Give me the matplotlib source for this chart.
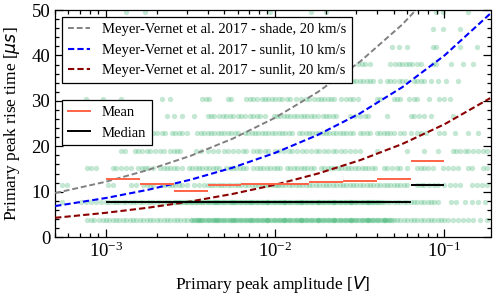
import numpy as np
import matplotlib
matplotlib.use('Agg')
import matplotlib.pyplot as plt
from matplotlib.ticker import MultipleLocator, LogLocator
from matplotlib.lines import Line2D

plt.rcParams['font.family'] = ['Liberation Serif', 'DejaVu Serif']
plt.rcParams['font.size'] = 12.5
plt.rcParams['mathtext.fontset'] = 'dejavusans'

# ---------------- data ----------------
# discrete rise-time levels [us]
row_times = [3.81, 7.63, 11.44, 15.26, 19.07, 22.89, 26.70, 30.52, 34.33, 38.15, 41.96, 45.78, 49.59]

# log10 of primary peak amplitude [V] for the events at each rise-time level
row1 = [-3.11, -3.09, -3.07, -3.04, -3.02, -3.00, -2.98, -2.96, -2.94, -2.92, -2.90, -2.88, -2.86, -2.84,
        -2.82, -2.80, -2.78, -2.76, -2.74, -2.72, -2.70, -2.68, -2.66, -2.64, -2.62, -2.60, -2.58, -2.56,
        -2.54, -2.52, -2.50, -2.49, -2.48, -2.47, -2.46, -2.45, -2.44, -2.43, -2.42, -2.41, -2.40, -2.39,
        -2.38, -2.37, -2.36, -2.35, -2.34, -2.33, -2.32, -2.31, -2.30, -2.29, -2.28, -2.27, -2.26, -2.25,
        -2.24, -2.23, -2.22, -2.21, -2.20, -2.19, -2.18, -2.17, -2.16, -2.15, -2.14, -2.13, -2.12, -2.11,
        -2.10, -2.09, -2.08, -2.07, -2.06, -2.05, -2.04, -2.03, -2.02, -2.01, -2.00, -1.99, -1.98, -1.97,
        -1.96, -1.95, -1.94, -1.93, -1.92, -1.91, -1.90, -1.89, -1.88, -1.87, -1.86, -1.85, -1.84, -1.83,
        -1.82, -1.81, -1.80, -1.79, -1.78, -1.77, -1.76, -1.75, -1.74, -1.73, -1.72, -1.71, -1.70, -1.69,
        -1.68, -1.67, -1.66, -1.65, -1.64, -1.63, -1.62, -1.61, -1.60, -1.59, -1.58, -1.57, -1.56, -1.55,
        -1.54, -1.53, -1.52, -1.51, -1.50, -1.49, -1.48, -1.47, -1.46, -1.45, -1.44, -1.43, -1.42, -1.41,
        -1.40, -1.39, -1.38, -1.37, -1.36, -1.35, -1.34, -1.33, -1.32, -1.31, -1.30, -1.28, -1.26, -1.24,
        -1.22, -1.20, -1.18, -1.16, -1.14, -1.12, -1.10, -1.08, -1.06, -1.04, -1.02, -1.00, -0.98, -0.95,
        -0.92, -0.89, -0.86, -0.83, -0.79, -0.75,
        -2.45, -2.35, -2.25, -2.15, -2.05, -1.95, -1.85, -1.75, -1.65, -1.55, -1.45, -1.35]
row2 = [-3.26, -3.15, -3.12, -3.09, -3.06, -3.03, -3.00, -2.98, -2.96, -2.94, -2.92, -2.90, -2.88, -2.86,
        -2.84, -2.82, -2.80, -2.78, -2.76, -2.74, -2.72, -2.70, -2.68, -2.66, -2.64, -2.62, -2.60, -2.59,
        -2.58, -2.57, -2.56, -2.55, -2.54, -2.53, -2.52, -2.51, -2.50, -2.49, -2.48, -2.47, -2.46, -2.45,
        -2.44, -2.43, -2.42, -2.41, -2.40, -2.39, -2.38, -2.37, -2.36, -2.35, -2.34, -2.33, -2.32, -2.31,
        -2.30, -2.29, -2.28, -2.27, -2.26, -2.25, -2.24, -2.23, -2.22, -2.21, -2.20, -2.19, -2.18, -2.17,
        -2.16, -2.15, -2.14, -2.13, -2.12, -2.11, -2.10, -2.09, -2.08, -2.07, -2.06, -2.05, -2.04, -2.03,
        -2.02, -2.01, -2.00, -1.99, -1.98, -1.97, -1.96, -1.95, -1.94, -1.93, -1.92, -1.91, -1.90, -1.89,
        -1.88, -1.87, -1.86, -1.85, -1.84, -1.83, -1.82, -1.81, -1.80, -1.79, -1.78, -1.77, -1.76, -1.75,
        -1.74, -1.73, -1.72, -1.71, -1.70, -1.69, -1.68, -1.67, -1.66, -1.65, -1.64, -1.63, -1.62, -1.61,
        -1.60, -1.59, -1.58, -1.57, -1.56, -1.55, -1.54, -1.53, -1.52, -1.51, -1.50, -1.49, -1.48, -1.47,
        -1.46, -1.45, -1.44, -1.43, -1.42, -1.41, -1.40, -1.39, -1.38, -1.37, -1.36, -1.34, -1.32, -1.30,
        -1.28, -1.26, -1.24, -1.22, -1.20, -1.18, -1.16, -1.14, -1.12, -1.10, -1.08, -1.06, -1.04, -0.96,
        -0.93, -0.88, -0.84, -0.80, -0.76,
        -2.35, -2.25, -2.15, -2.05, -1.95, -1.85, -1.75, -1.65, -1.55, -1.45]
row3 = [-3.26, -3.23, -2.99, -2.96, -2.85, -2.82, -2.78, -2.76, -2.74, -2.72, -2.67, -2.65, -2.63, -2.61,
        -2.59, -2.57, -2.55, -2.52, -2.48, -2.45, -2.42, -2.40, -2.38, -2.36, -2.34, -2.32, -2.30, -2.28,
        -2.26, -2.24, -2.22, -2.20, -2.18, -2.16, -2.14, -2.12, -2.10, -2.08, -2.06, -2.04, -2.02, -2.00,
        -1.99, -1.98, -1.96, -1.94, -1.92, -1.90, -1.88, -1.86, -1.84, -1.82, -1.80, -1.78, -1.76, -1.74,
        -1.72, -1.70, -1.68, -1.66, -1.64, -1.62, -1.60, -1.58, -1.56, -1.54, -1.52, -1.50, -1.48, -1.46,
        -1.44, -1.42, -1.40, -1.38, -1.36, -1.34, -1.32, -1.30, -1.28, -1.26, -1.24, -1.22, -1.16, -1.14,
        -1.12, -1.09, -1.06, -1.04, -1.00, -0.97, -0.94, -0.91, -0.84, -0.81, -0.78, -0.75]
row4 = [-3.11, -3.09, -3.06, -2.96, -2.94, -2.91, -2.88, -2.85, -2.81, -2.79, -2.77, -2.75, -2.72, -2.68,
        -2.66, -2.64, -2.62, -2.60, -2.58, -2.55, -2.51, -2.49, -2.47, -2.45, -2.43, -2.41, -2.39, -2.37,
        -2.35, -2.33, -2.29, -2.27, -2.25, -2.23, -2.21, -2.19, -2.17, -2.13, -2.11, -2.09, -2.07, -2.05,
        -2.03, -2.01, -1.99, -1.97, -1.93, -1.91, -1.89, -1.87, -1.85, -1.83, -1.81, -1.79, -1.77, -1.73,
        -1.71, -1.69, -1.67, -1.65, -1.63, -1.61, -1.59, -1.57, -1.55, -1.53, -1.51, -1.49, -1.47, -1.45,
        -1.43, -1.41, -1.36, -1.34, -1.31, -1.28, -1.26, -1.22, -1.16, -1.14, -1.12, -1.10, -1.07, -1.01,
        -0.98, -0.95, -0.92, -0.86, -0.84, -0.77, -0.75]
row5 = [-2.91, -2.89, -2.83, -2.81, -2.79, -2.76, -2.74, -2.71, -2.68, -2.66, -2.62, -2.60, -2.58, -2.56,
        -2.47, -2.44, -2.40, -2.37, -2.34, -2.30, -2.28, -2.25, -2.22, -2.19, -2.17, -2.13, -2.11, -2.09,
        -2.06, -2.04, -2.00, -1.98, -1.95, -1.92, -1.90, -1.87, -1.84, -1.82, -1.79, -1.76, -1.74, -1.71,
        -1.69, -1.66, -1.64, -1.61, -1.59, -1.56, -1.53, -1.50, -1.40, -1.22, -1.12, -1.04, -0.95, -0.93,
        -0.91, -0.88, -0.86, -0.83, -0.80, -0.77, -0.75]
row6 = [-2.72, -2.70, -2.67, -2.65, -2.61, -2.59, -2.57, -2.55, -2.52, -2.46, -2.44, -2.42, -2.40, -2.38,
        -2.36, -2.34, -2.32, -2.30, -2.28, -2.26, -2.24, -2.22, -2.18, -2.16, -2.14, -2.12, -2.10, -2.08,
        -2.06, -2.04, -2.02, -2.00, -1.98, -1.96, -1.94, -1.92, -1.90, -1.86, -1.84, -1.82, -1.80, -1.78,
        -1.76, -1.74, -1.72, -1.70, -1.68, -1.66, -1.64, -1.62, -1.60, -1.58, -1.56, -1.54, -1.50, -1.48,
        -1.46, -1.44, -1.40, -1.38, -1.36, -1.34, -1.32, -1.30, -1.26, -1.24, -1.20, -1.16, -1.14, -1.11,
        -1.03, -1.00, -0.94, -0.86, -0.80]
row7 = [-2.64, -2.60, -2.55, -2.48, -2.40, -2.38, -2.36, -2.33, -2.31, -2.29, -2.27, -2.25, -2.22, -2.20,
        -2.18, -2.15, -2.13, -2.11, -2.09, -2.06, -2.01, -1.99, -1.97, -1.95, -1.93, -1.91, -1.89, -1.87,
        -1.85, -1.83, -1.81, -1.79, -1.77, -1.75, -1.72, -1.70, -1.68, -1.66, -1.64, -1.56, -1.53, -1.50,
        -1.47, -1.45, -1.34, -1.20, -1.18, -1.15, -1.12, -1.08, -0.95]
row8 = [-3.12, -3.02, -2.91, -2.67, -2.62, -2.43, -2.41, -2.39, -2.28, -2.26, -2.17, -2.15, -2.13, -2.11,
        -2.08, -2.06, -2.04, -2.02, -2.00, -1.98, -1.96, -1.93, -1.91, -1.88, -1.85, -1.82, -1.80, -1.77,
        -1.75, -1.73, -1.71, -1.69, -1.67, -1.65, -1.61, -1.58, -1.56, -1.54, -1.51, -1.40, -1.38, -1.30,
        -1.28, -1.26, -1.21, -1.18, -1.16, -1.09, -1.03, -1.00, -0.97]
row9 = [-1.56, -1.54, -1.52, -1.50, -1.48, -1.46, -1.44, -1.42, -1.38, -1.34, -1.32, -1.30, -1.27, -1.25,
        -1.23, -1.18, -1.16, -1.14, -1.12, -1.08, -1.04, -0.99, -0.92]
row10 = [-1.51, -1.49, -1.47, -1.44, -1.32, -1.29, -1.27, -1.25, -1.23, -1.21, -1.19, -1.16, -1.14, -1.07,
         -1.05, -0.96, -0.89, -0.83]
row11 = [-1.31, -1.27, -1.22, -1.07, -1.05, -0.91, -0.81]
row12 = [-1.07, -1.01, -0.91]
row13 = [-2.88, -2.77, -2.03, -1.79, -1.70, -1.05, -1.01, -0.86]
rows = [row1, row2, row3, row4, row5, row6, row7, row8, row9, row10, row11, row12, row13]

# binned statistics (bins of 0.2 decade from 1e-3 to 1e-1)
bin_edges = [1.0e-3, 1.585e-3, 2.512e-3, 3.981e-3, 6.310e-3, 1.0e-2, 1.585e-2, 2.512e-2, 3.981e-2, 6.310e-2, 1.0e-1]
mean_vals = [12.9, 11.7, 10.2, 11.4, 11.7, 11.7, 12.1, 12.3, 12.8, 16.8]
median_vals = [7.63, 7.63, 7.63, 7.63, 7.63, 7.63, 7.63, 7.63, 7.63, 11.44]

# Meyer-Vernet et al. 2017 model curves
curve_logamp = [-3.30, -3.00, -2.75, -2.50, -2.25, -2.00, -1.75, -1.50, -1.25, -1.00, -0.73]
shade20 = [9.7, 12.2, 14.8, 17.9, 21.7, 26.3, 31.9, 38.6, 46.8, 56.7, 69.7]
sunlit10 = [6.84, 8.61, 10.43, 12.64, 15.31, 18.56, 22.48, 27.23, 33.0, 40.0, 49.2]
sunlit20 = [4.25, 5.35, 6.48, 7.85, 9.52, 11.53, 13.97, 16.92, 20.5, 24.85, 30.6]

labels_curves = ['Meyer-Vernet et al. 2017 - shade, 20 km/s',
                 'Meyer-Vernet et al. 2017 - sunlit, 10 km/s',
                 'Meyer-Vernet et al. 2017 - sunlit, 20 km/s']

# ---------------- plot ----------------
fig = plt.figure(figsize=(5.0, 2.96), dpi=100)
ax = fig.add_axes([0.11, 0.199, 0.871, 0.767])

for t, r in zip(row_times, rows):
    amp = 10 ** np.array(r)
    ax.scatter(amp, np.full(len(amp), t), s=15, color='mediumseagreen', alpha=0.3,
               linewidths=0, zorder=1)

ca = 10 ** np.array(curve_logamp)
dash = (3.0, 1.5)
l1, = ax.plot(ca, shade20, '--', color='gray', lw=1.4, dashes=dash, zorder=3)
l2, = ax.plot(ca, sunlit10, '--', color='blue', lw=1.5, dashes=dash, zorder=3)
l3, = ax.plot(ca, sunlit20, '--', color='darkred', lw=1.5, dashes=dash, zorder=3)

ax.hlines(mean_vals, bin_edges[:-1], bin_edges[1:], color='tomato', lw=1.4, zorder=4)
ax.hlines(median_vals, bin_edges[:-1], bin_edges[1:], color='black', lw=1.4, zorder=4)

ax.set_xscale('log')
ax.set_xlim(5e-4, 0.187)
ax.set_ylim(0, 50)
ax.yaxis.set_major_locator(MultipleLocator(10))
ax.yaxis.set_minor_locator(MultipleLocator(2))
ax.xaxis.set_major_locator(LogLocator(base=10, numticks=10))
ax.xaxis.set_minor_locator(LogLocator(base=10, subs=np.arange(2, 10), numticks=20))
ax.tick_params(which='both', direction='in', top=True, right=True, width=0.9, labelsize=13.5)
ax.tick_params(which='major', length=6)
ax.tick_params(which='minor', length=3)
for s in ax.spines.values():
    s.set_linewidth(0.9)

ax.set_xlabel('Primary peak amplitude [$V$]', labelpad=9)
ax.set_ylabel(r'Primary peak rise time [$\mu s$]', labelpad=7)

leg1 = ax.legend([l1, l2, l3], labels_curves, loc='upper left', fontsize=10.5, fancybox=False,
                 edgecolor='black', framealpha=1, handlelength=1.5)
leg1.get_frame().set_linewidth(0.9)
leg1.set_zorder(10)
ax.add_artist(leg1)

h_mean = Line2D([], [], color='tomato', lw=1.4)
h_med = Line2D([], [], color='black', lw=1.4)
leg2 = ax.legend([h_mean, h_med], ['Mean', 'Median'], loc='upper left', bbox_to_anchor=(0.0, 0.636),
                 fontsize=10.5, fancybox=False, edgecolor='black', framealpha=1, handlelength=1.5)
leg2.get_frame().set_linewidth(0.9)
leg2.set_zorder(10)

fig.savefig('out.png', dpi=100)
